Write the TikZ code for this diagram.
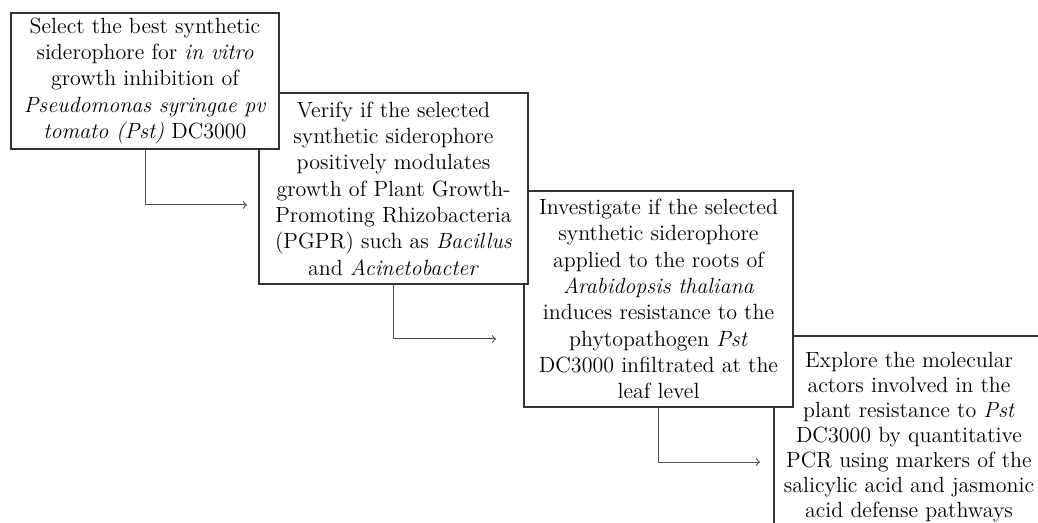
\documentclass[tikz,border=0pt]{standalone}
\usepackage{tikz}
\usetikzlibrary{fit}
\usetikzlibrary{calc}

\begin{document}
\begin{tikzpicture}[
  x=0.5pt, y=-0.5pt,
  objective/.style={draw=black!80, fill=white, line width=0.7pt, rectangle, inner sep=0pt, outer sep=0pt},
  every label/.append style={align=center, font=\fontsize{11}{13.15}\selectfont},
  arr/.style={black!70, line width=0.5pt, ->},
]
\useasboundingbox (0,0) rectangle (1038,523);

\node (obj4) [objective, fit={(774,336) (1044,538)}, label={[font=\fontsize{11}{12.5}\selectfont]center:{Explore the molecular\\ actors involved in the\\ plant resistance to \textit{Pst}\\ DC3000 by quantitative\\ PCR using markers of the\\ salicylic acid and jasmonic\\ acid defense pathways}}] {};
\node (obj3) [objective, fit={(524,191) (793,407)}, label=center:{Investigate if the selected\\ synthetic siderophore\\ applied to the roots of\\ \textit{Arabidopsis thaliana}\\ induces resistance to the\\ phytopathogen \textit{Pst}\\ DC3000 infiltrated at the\\ leaf level}] {};
\node (obj2) [objective, fit={(259,93) (528,284)}, label=center:{Verify if the selected\\ synthetic siderophore\\ positively modulates\\ growth of Plant Growth-\\ Promoting Rhizobacteria\\ (PGPR) such as \textit{Bacillus}\\ and \textit{Acinetobacter}}] {};
\node (obj1) [objective, fit={(11,13) (279,149)}, label=center:{Select the best synthetic\\ siderophore for \textit{in vitro}\\ growth inhibition of\\ \textit{Pseudomonas syringae pv}\\ \textit{tomato (Pst)} DC3000}] {};

\coordinate (end1) at (247,205);
\coordinate (end2) at (496,339);
\coordinate (end3) at (760,462);

\draw[arr] (obj1.south) |- (end1);
\draw[arr] (obj2.south) |- (end2);
\draw[arr] (obj3.south) |- (end3);
\end{tikzpicture}
\end{document}
